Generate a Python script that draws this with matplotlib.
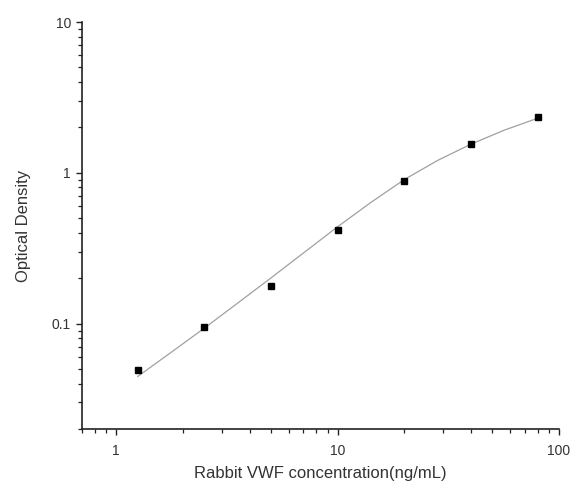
import numpy as np
import matplotlib
matplotlib.use("Agg")
import matplotlib.pyplot as plt
from matplotlib.ticker import LogLocator, FuncFormatter, NullFormatter

# standard points
conc = [1.25, 2.5, 5, 10, 20, 40, 80]
od = [0.049, 0.095, 0.178, 0.42, 0.88, 1.55, 2.35]

# fitted curve
curve_x = [1.25, 1.77, 2.5, 3.54, 5, 7.07, 10, 14.1, 20, 28.3, 40, 56.6, 80]
curve_y = [0.0446, 0.0645, 0.0933, 0.137, 0.201, 0.297, 0.439, 0.635,
           0.902, 1.209, 1.549, 1.919, 2.30]

x_label = "Rabbit VWF concentration(ng/mL)"
y_label = "Optical Density"

plt.rcParams["font.family"] = ["Liberation Sans", "DejaVu Sans"]

fig = plt.figure(figsize=(5.71, 4.90), dpi=100)
ax = fig.add_axes([0.1436, 0.1245, 0.979 - 0.1436, 0.955 - 0.1245])

ax.plot(curve_x, curve_y, ls="-", color="#a0a0a0", lw=0.9, zorder=2)
ax.plot(conc, od, ls="", marker="s", ms=5, color="black", zorder=3)

ax.set_xscale("log")
ax.set_yscale("log")
ax.set_xlim(0.7, 100)
ax.set_ylim(0.02, 10)

fmt = FuncFormatter(lambda v, p: f"{v:g}")
for axis in (ax.xaxis, ax.yaxis):
    axis.set_major_locator(LogLocator(base=10, numticks=10))
    axis.set_minor_locator(LogLocator(base=10, subs=np.arange(2, 10), numticks=20))
    axis.set_major_formatter(fmt)
    axis.set_minor_formatter(NullFormatter())

ax.spines["top"].set_visible(False)
ax.spines["right"].set_visible(False)
for s in ("left", "bottom"):
    ax.spines[s].set_linewidth(1.2)
    ax.spines[s].set_color("#222222")

ax.tick_params(which="major", length=4.5, width=1.0, labelsize=10, color="#222222",
               labelcolor="#333333")
ax.tick_params(axis="x", which="major", pad=6)
ax.tick_params(axis="y", which="major", pad=3.5)
ax.tick_params(which="minor", length=3, width=0.9, color="#222222")

ax.set_xlabel(x_label, fontsize=12, color="#333333", labelpad=6)
ax.set_ylabel(y_label, fontsize=12, color="#333333", labelpad=15)

fig.savefig("out.png", dpi=100)
